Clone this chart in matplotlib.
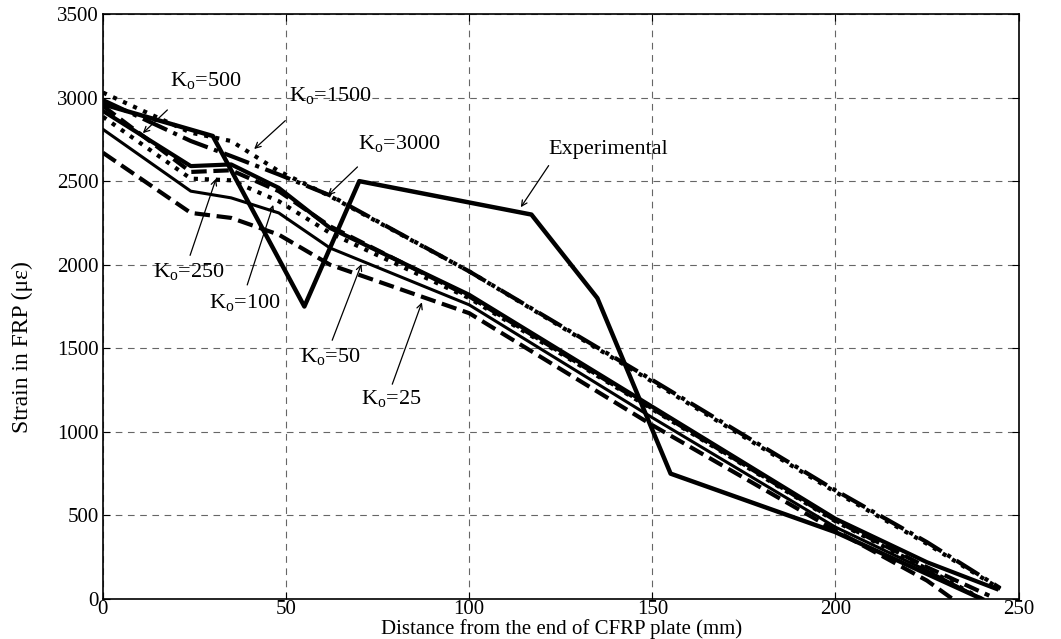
import matplotlib
matplotlib.use('Agg')
import matplotlib.pyplot as plt

plt.rcParams['font.family'] = ['Liberation Serif', 'DejaVu Serif']
plt.rcParams['mathtext.fontset'] = 'custom'
plt.rcParams['mathtext.rm'] = 'Liberation Serif'

# model curves (distance mm, strain)
x_k3000 = [0, 24, 35, 48, 62, 100, 150, 200, 225, 245]
y_k3000 = [2985, 2740, 2650, 2540, 2415, 1960, 1310, 650, 340, 65]
x_k1500 = [0, 24, 35, 48, 62, 100, 150, 200, 225, 245]
y_k1500 = [3030, 2790, 2740, 2560, 2410, 1960, 1300, 640, 330, 60]
x_k500 = [0, 24, 35, 48, 62, 100, 150, 200, 225, 244]
y_k500 = [2920, 2590, 2600, 2460, 2220, 1820, 1150, 480, 220, 60]
x_k250 = [0, 24, 35, 48, 62, 100, 150, 200, 225, 242]
y_k250 = [2950, 2555, 2565, 2440, 2230, 1810, 1140, 470, 190, 20]
x_k100 = [0, 24, 35, 48, 62, 100, 150, 200, 225, 240]
y_k100 = [2885, 2515, 2505, 2380, 2190, 1800, 1135, 465, 180, 0]
x_k50 = [0, 24, 35, 48, 62, 100, 150, 200, 225, 240]
y_k50 = [2810, 2440, 2400, 2310, 2100, 1760, 1085, 430, 170, 0]
x_k25 = [0, 24, 35, 48, 62, 100, 150, 200, 225, 232]
y_k25 = [2670, 2310, 2280, 2180, 2000, 1710, 1040, 410, 110, 0]

# experimental
x_exp = [0, 30, 55, 70, 117, 135, 155, 200, 240]
y_exp = [2960, 2770, 1750, 2500, 2300, 1800, 750, 400, 0]

fig = plt.figure(figsize=(10.61, 6.39), dpi=100)
ax = fig.add_axes([0.097, 0.0626, 0.863, 0.9155])

lw = 3.0
ax.plot(x_k3000, y_k3000, color='k', lw=lw, ls='-.')
ax.plot(x_k1500, y_k1500, color='k', lw=lw, ls=':')
ax.plot(x_k500, y_k500, color='k', lw=lw, ls='-')
ax.plot(x_k250, y_k250, color='k', lw=lw, ls='--')
ax.plot(x_k100, y_k100, color='k', lw=lw, ls=':')
ax.plot(x_k50, y_k50, color='k', lw=2.2, ls='-')
ax.plot(x_k25, y_k25, color='k', lw=lw, ls='--')
ax.plot(x_exp, y_exp, color='k', lw=3.2, ls='-')

ax.set_xlim(0, 250)
ax.set_ylim(0, 3500)
ax.set_xticks(range(0, 251, 50))
ax.set_yticks(range(0, 3501, 500))
ax.grid(True, ls=(0, (6, 5)), color='0.4', lw=0.8)
ax.tick_params(direction='in', labelsize=15, length=5, top=True, right=True)
ax.tick_params(axis='x', pad=1)
ax.tick_params(axis='y', pad=3)
for s in ax.spines.values():
    s.set_linewidth(1.2)

fig.text(0.529, 0.0, 'Distance from the end of CFRP plate (mm)',
         fontsize=15, ha='center', va='bottom')
fig.text(0.021, 0.457, 'Strain in FRP (\u03bc\u03b5)', fontsize=17,
         rotation=90, ha='center', va='center')

# labels and arrows
labels = [
    (r'K$_\mathrm{o}$=500', 28, 3100, (17.6, 2926), (10.9, 2787)),
    (r'K$_\mathrm{o}$=1500', 62, 3010, (49.8, 2862), (41.3, 2692)),
    (r'K$_\mathrm{o}$=3000', 81, 2720, (69.5, 2585), (61.4, 2415)),
    (r'K$_\mathrm{o}$=250', 23.4, 1955, (23.8, 2056), (30.9, 2515)),
    (r'K$_\mathrm{o}$=100', 38.7, 1770, (39.4, 1879), (46.5, 2358)),
    (r'K$_\mathrm{o}$=50', 62, 1448, (62.6, 1548), (70.6, 2004)),
    (r'K$_\mathrm{o}$=25', 78.8, 1195, (79, 1285), (87.1, 1775)),
    ('Experimental', 138, 2690, (121.7, 2593), (114.1, 2344)),
]
for txt, tx, ty, tail, tip in labels:
    ax.text(tx, ty, txt, fontsize=16, ha='center', va='center')
    ax.annotate('', xy=tip, xytext=tail,
                arrowprops=dict(arrowstyle='->', color='k', lw=0.9,
                                shrinkA=0, shrinkB=0))

fig.savefig('out.png', dpi=100)
